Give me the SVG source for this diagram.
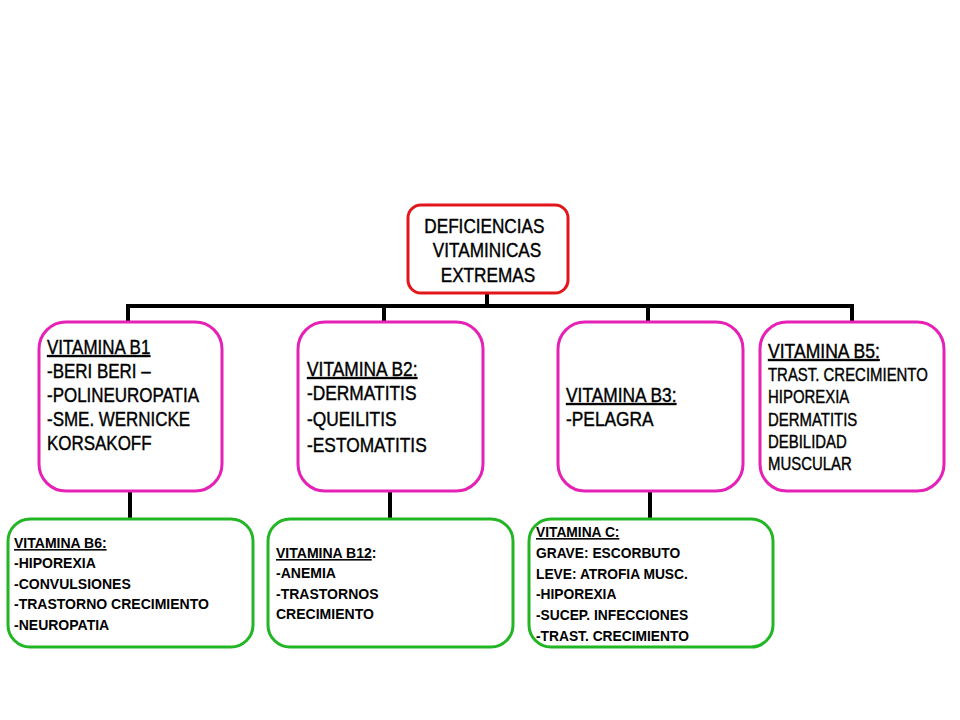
<svg xmlns="http://www.w3.org/2000/svg" width="960" height="720" viewBox="0 0 960 720">
<style>
.root{fill:#fff;stroke:#e3161b;stroke-width:3}
.pink{fill:#fff;stroke:#e621b5;stroke-width:3}
.green{fill:#fff;stroke:#22b524;stroke-width:3}
.conn{stroke:#000;stroke-width:4;fill:none}
text{font-family:"Liberation Sans",Arial,sans-serif;fill:#000}
.r{stroke:#000;stroke-width:0.4}
.t19{font-size:19.5px}
.t18{font-size:18px}
.g{font-size:15.5px;font-weight:bold}
.u{text-decoration:underline}
</style>
<rect width="960" height="720" fill="#fff"/>
<g id="connectors">
<line class="conn" x1="487" y1="293" x2="487" y2="306"/>
<line class="conn" x1="126" y1="306" x2="854" y2="306"/>
<line class="conn" x1="128" y1="306" x2="128" y2="322"/>
<line class="conn" x1="384" y1="306" x2="384" y2="322"/>
<line class="conn" x1="648" y1="306" x2="648" y2="322"/>
<line class="conn" x1="852" y1="306" x2="852" y2="322"/>
<line class="conn" x1="130" y1="491" x2="130" y2="519"/>
<line class="conn" x1="390" y1="491" x2="390" y2="519"/>
<line class="conn" x1="650" y1="491" x2="650" y2="519"/>
</g>
<g id="root">
<rect class="root" x="408" y="205" width="160" height="88" rx="13"/>
<g transform="translate(487 0) scale(0.88 1)" class="t19 r">
<text text-anchor="middle" x="-3" y="233">DEFICIENCIAS</text>
<text text-anchor="middle" x="0" y="257">VITAMINICAS</text>
<text text-anchor="middle" x="1" y="282">EXTREMAS</text>
</g>
</g>
<g id="b1">
<rect class="pink" x="39" y="322" width="183" height="169" rx="27"/>
<g transform="translate(47 0) scale(0.87 1)" class="t19 r">
<text x="0" y="354" class="u">VITAMINA B1</text>
<text x="0" y="378">-BERI BERI –</text>
<text x="0" y="402">-POLINEUROPATIA</text>
<text x="0" y="426">-SME. WERNICKE</text>
<text x="0" y="450">KORSAKOFF</text>
</g>
</g>
<g id="b2">
<rect class="pink" x="298" y="322" width="185" height="169" rx="27"/>
<g transform="translate(307 0) scale(0.89 1)" class="t19 r">
<text x="0" y="376" class="u">VITAMINA B2:</text>
<text x="0" y="400">-DERMATITIS</text>
<text x="0" y="426">-QUEILITIS</text>
<text x="0" y="452">-ESTOMATITIS</text>
</g>
</g>
<g id="b3">
<rect class="pink" x="558" y="322" width="185" height="169" rx="27"/>
<g transform="translate(566 0) scale(0.89 1)" class="t19 r">
<text x="0" y="402" class="u">VITAMINA B3:</text>
<text x="0" y="426">-PELAGRA</text>
</g>
</g>
<g id="b5">
<rect class="pink" x="760" y="322" width="184" height="169" rx="27"/>
<g transform="translate(768 0)" class="r">
<text x="0" y="358" class="t19 u" transform="scale(0.9 1)">VITAMINA B5:</text>
<g transform="scale(0.83 1)" class="t18">
<text x="0" y="381">TRAST. CRECIMIENTO</text>
<text x="0" y="403">HIPOREXIA</text>
<text x="0" y="426">DERMATITIS</text>
<text x="0" y="448">DEBILIDAD</text>
<text x="0" y="470">MUSCULAR</text>
</g>
</g>
</g>
<g id="b6">
<rect class="green" x="8" y="519" width="245" height="128" rx="22"/>
<g transform="translate(14 0) scale(0.905 1)" class="g">
<text x="0" y="548" class="u">VITAMINA B6:</text>
<text x="0" y="568">-HIPOREXIA</text>
<text x="0" y="589">-CONVULSIONES</text>
<text x="0" y="609">-TRASTORNO CRECIMIENTO</text>
<text x="0" y="630">-NEUROPATIA</text>
</g>
</g>
<g id="b12">
<rect class="green" x="268" y="519" width="245" height="128" rx="22"/>
<g transform="translate(276 0) scale(0.905 1)" class="g">
<text x="0" y="558"><tspan class="u">VITAMINA B12</tspan>:</text>
<text x="0" y="578">-ANEMIA</text>
<text x="0" y="599">-TRASTORNOS</text>
<text x="0" y="619">CRECIMIENTO</text>
</g>
</g>
<g id="vitc">
<rect class="green" x="529" y="519" width="244" height="128" rx="22"/>
<g transform="translate(536 0) scale(0.89 1)" class="g">
<text x="0" y="537" class="u">VITAMINA C:</text>
<text x="0" y="558">GRAVE: ESCORBUTO</text>
<text x="0" y="579">LEVE: ATROFIA MUSC.</text>
<text x="0" y="599">-HIPOREXIA</text>
<text x="0" y="620">-SUCEP. INFECCIONES</text>
<text x="0" y="641">-TRAST. CRECIMIENTO</text>
</g>
</g>
</svg>
